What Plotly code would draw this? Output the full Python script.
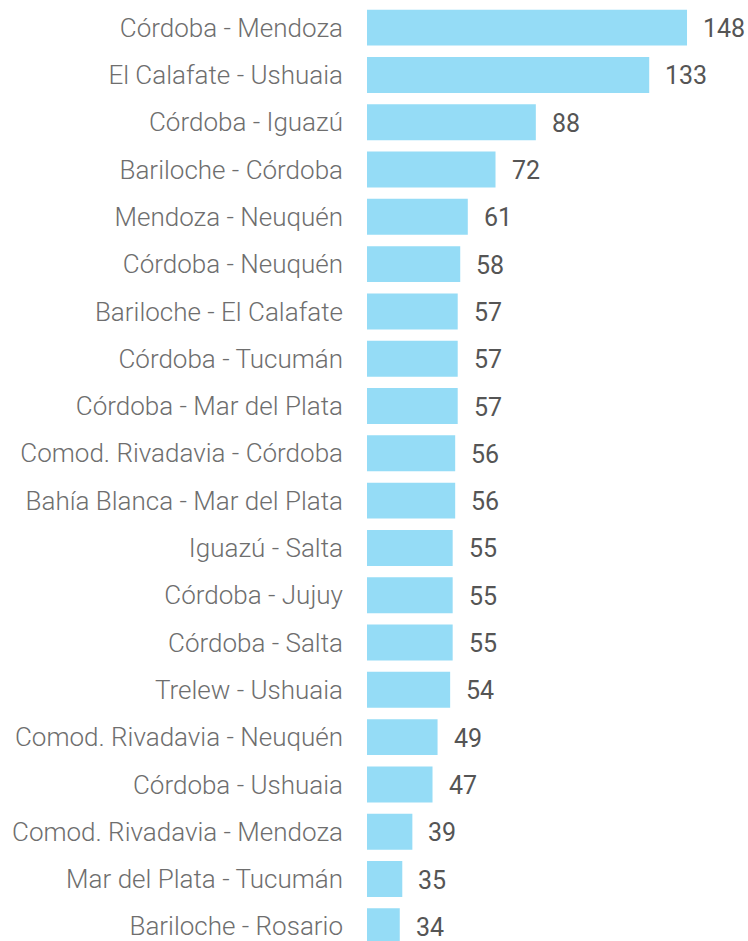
import plotly.graph_objects as go

routes = ["Córdoba - Mendoza", "El Calafate - Ushuaia", "Córdoba - Iguazú", "Bariloche - Córdoba",
          "Mendoza - Neuquén", "Córdoba - Neuquén", "Bariloche - El Calafate", "Córdoba - Tucumán",
          "Córdoba - Mar del Plata", "Comod. Rivadavia - Córdoba", "Bahía Blanca - Mar del Plata",
          "Iguazú - Salta", "Córdoba - Jujuy", "Córdoba - Salta", "Trelew - Ushuaia",
          "Comod. Rivadavia - Neuquén", "Córdoba - Ushuaia", "Comod. Rivadavia - Mendoza",
          "Mar del Plata - Tucumán", "Bariloche - Rosario"]
values = [148, 133, 88, 72, 61, 58, 57, 57, 57, 56, 56, 55, 55, 55, 54, 49, 47, 39, 35, 34]

fig = go.Figure(go.Bar(
    x=values, y=routes, orientation="h",
    marker=dict(color="#95dcf6", line=dict(width=0)),
    hoverinfo="x+y",
))

for r, v in zip(routes, values):
    fig.add_annotation(x=v, y=r, text=str(v), showarrow=False, xanchor="left", xshift=14,
                       yshift=-1, font=dict(family="Roboto", size=25, color="#555555"))

fig.update_layout(
    width=748, height=941,
    margin=dict(l=367, r=0, t=4, b=0, autoexpand=False),
    paper_bgcolor="white", plot_bgcolor="white",
    bargap=0.24, showlegend=False,
    font=dict(family="Roboto", size=24),
)
fig.update_xaxes(range=[21, 172.2], visible=False, showgrid=False, zeroline=False)
fig.update_yaxes(
    categoryorder="array", categoryarray=routes,
    range=[19.31, -0.5], showgrid=False, zeroline=False, showline=False, ticks="",
    ticklabelstandoff=23, automargin=False,
    tickfont=dict(family="Roboto", size=26, color="#6e6e6e", weight=300),
)
fig.write_html(
    "out.html",
    config={"displayModeBar": False},
    post_script="document.body.style.margin='0';document.body.style.overflow='hidden';",
)
